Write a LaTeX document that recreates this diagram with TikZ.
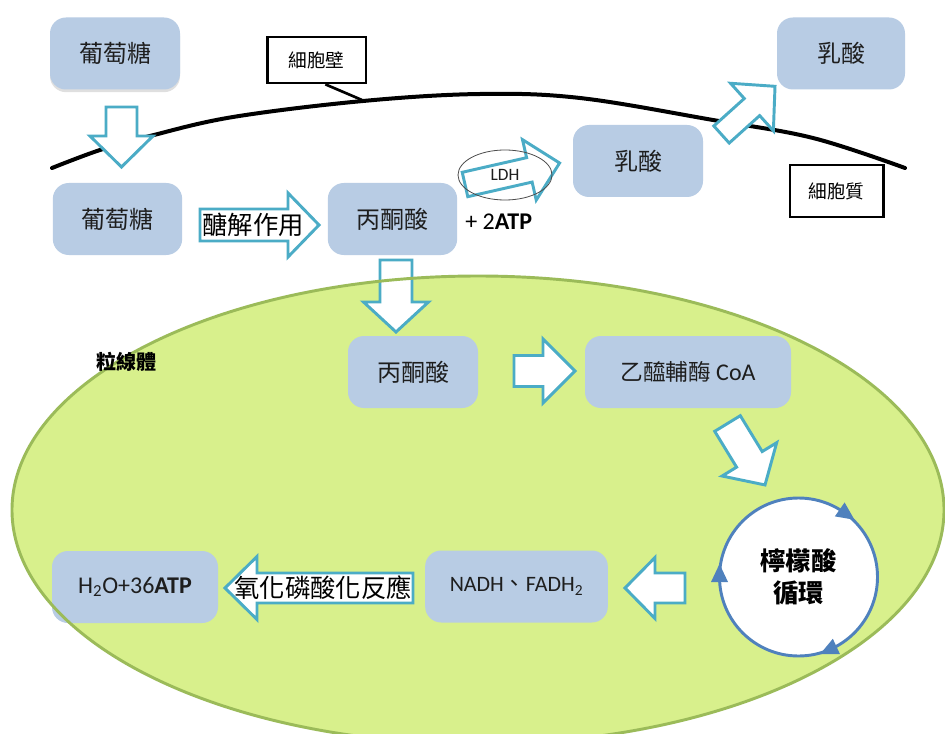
\documentclass[tikz,border=0pt]{standalone}
\usepackage{fontspec}
\setmainfont{Carlito}
\newfontfamily\cjk{Noto Sans CJK TC}
\usetikzlibrary{shadows,shapes.geometric}
\definecolor{boxblue}{RGB}{184,204,228}
\definecolor{arrowteal}{RGB}{75,172,198}
\definecolor{mitofill}{RGB}{216,240,140}
\definecolor{mitoedge}{RGB}{155,187,89}
\definecolor{cycblue}{RGB}{79,129,189}
\definecolor{textgray}{RGB}{30,30,30}
\tikzset{
  box/.style={rounded corners=12pt, fill=boxblue, inner sep=0pt, minimum height=54pt,
    text=textgray, font=\cjk\fontsize{18}{22}\selectfont},
  barrow/.style={draw=arrowteal, line width=2.2pt, fill=white, line join=miter},
  tagbox/.style={draw=black, line width=2pt, fill=white, inner sep=0pt,
    font=\cjk\fontsize{14}{16}\selectfont},
  bigtext/.style={font=\cjk\fontsize{19}{22}\selectfont, text=black, inner sep=0pt},
}
\newcommand{\blockarr}[7]{%
  \draw[barrow, shift={(#1,#2)}, rotate=#3]
    (0,-#5/2) -- (#4-#7,-#5/2) -- (#4-#7,-#6/2) -- (#4,0) -- (#4-#7,#6/2)
    -- (#4-#7,#5/2) -- (0,#5/2) -- cycle;}
\newcommand{\cyctip}[1]{%
  \fill[cycblue, shift={(798.5,577)}, rotate=#1] (79,13) -- (70.5,-5) -- (87.5,-5) -- cycle;}
\begin{document}
\begin{tikzpicture}[x=0.75pt, y=-0.75pt]
\clip (0,0) rectangle (945,734);
\fill[white] (0,0) rectangle (945,734);
% mitochondrion fill
\fill[mitofill] (478,510) ellipse [x radius=466, y radius=234];
% cell membrane
\draw[line width=3pt, line cap=round] plot[smooth, tension=0.6] coordinates
  {(52,168) (100,150) (150,136) (233,117) (363,101) (480,94) (580,98) (713,120) (813,138) (905,168)};

% block arrows
\blockarr{121.5}{107}{-90}{60}{31}{63}{31}
\blockarr{200}{225}{0}{119}{32}{64}{31}
\blockarr{465}{184.5}{12.8}{97}{25}{62}{31}
\blockarr{721.5}{134.5}{42}{72}{23}{64}{31}
\blockarr{396}{260}{-90}{72}{32}{65}{30}
\blockarr{514}{371}{0}{61}{31}{64}{32}
\blockarr{727.5}{423.5}{-58.6}{72}{30}{64}{30}
\blockarr{685}{588}{180}{60}{30}{61}{30}
\blockarr{413}{588}{180}{188}{30}{63}{32}

% boxes
\node[box, minimum width=97.5pt, drop shadow={opacity=0.25, shadow xshift=0pt, shadow yshift=-2pt}] (g1) at (115,53.5) {葡萄糖};
\node[box, minimum width=97pt] (g2) at (117.5,219) {葡萄糖};
\node[box, minimum width=97pt] (p1) at (392.5,219) {丙酮酸};
\node[box, minimum width=97.5pt] (lac1) at (638,161) {乳酸};
\node[box, minimum width=96pt] (lac2) at (841,53.5) {乳酸};
\node[box, minimum width=97.5pt] (p2) at (413,372) {丙酮酸};
\node[box, minimum width=154.5pt, font=\cjk\fontsize{17}{20}\selectfont] (acoa) at (688,372) {乙醯輔酶 {\rmfamily\fontsize{18}{20}\selectfont CoA}};
\node[box, minimum width=137pt, font=\fontsize{16.5}{20}\selectfont] (nadh) at (516.5,586.5) {NADH{\cjk 、}FADH\textsubscript{2}};
\node[box, minimum width=124.5pt, font=\fontsize{18}{22}\selectfont] (h2o) at (135,587) {H\textsubscript{2}O+36\textbf{ATP}};

% tags
\node[tagbox, minimum width=74pt, minimum height=34.5pt] (wall) at (316.5,60) {細胞壁};
\coordinate (wallpt) at (362,100);
\draw[line width=2pt] (wall.290) -- (wallpt);
\node[tagbox, minimum width=70pt, minimum height=39pt] (cyto) at (836.5,191) {細胞質};

% labels
\node[bigtext] (glyc) at (253,225) {醣解作用};
\node[bigtext] (oxph) at (323,588) {氧化磷酸化反應};
\node[font=\fontsize{18}{20}\selectfont, anchor=west, inner sep=0pt] (atp) at (465,222) {+ 2\textbf{ATP}};
\node[ellipse, draw=black!70, line width=0.6pt, minimum width=70.5pt, minimum height=37.5pt, inner sep=0pt,
  font=\fontsize{13}{15}\selectfont, text=textgray] (ldh) at (505,175) {LDH};

% citric acid cycle
\node[circle, draw=cycblue, line width=2.2pt, fill=white, minimum size=118.5pt, inner sep=0pt,
  align=center, font=\cjk\bfseries\fontsize{19}{24}\selectfont] (tca) at (798.5,577) {檸檬酸\\循環};
\cyctip{55}
\cyctip{180}
\cyctip{-65}

% mitochondrion border on top
\draw[mitoedge, line width=2.2pt] (478,510) ellipse [x radius=466, y radius=234];
\node[font=\cjk\bfseries\fontsize{15}{18}\selectfont] (mito) at (126.5,362) {粒線體};
\end{tikzpicture}
\end{document}
